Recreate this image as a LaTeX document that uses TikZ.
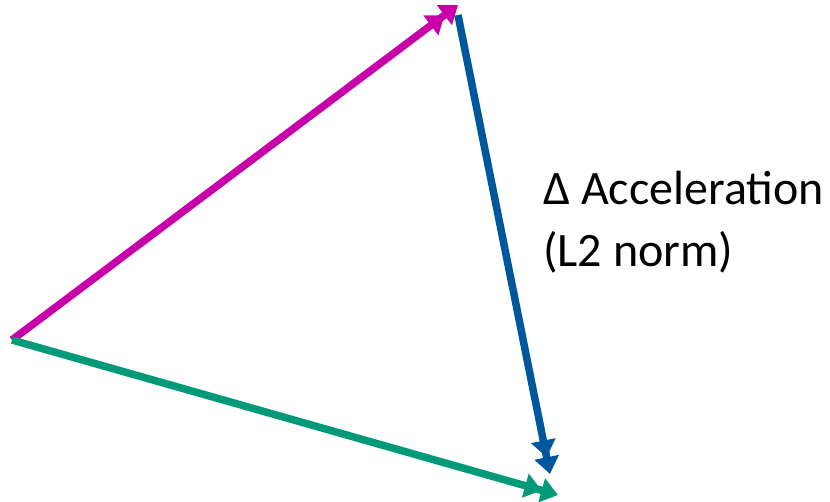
\documentclass[tikz,border=0pt]{standalone}
\usepackage{fontspec}
\setmainfont{Carlito}
\usetikzlibrary{arrows.meta}
\definecolor{accMagenta}{HTML}{C800AA}
\definecolor{accBlue}{HTML}{00579C}
\definecolor{accGreen}{HTML}{009A78}

\begin{document}
\begin{tikzpicture}[x=1pt, y=-1pt,
          vec/.style={line width=7.5pt, -{Triangle[length=17pt,width=24pt] Triangle[length=17pt,width=24pt]}},
          lbl/.style={font=\fontsize{48}{62}\selectfont, align=left, inner sep=0pt}]
        \useasboundingbox (0,0) rectangle (830,502);
        \coordinate (o) at (12,340);
        \coordinate (a) at (458,5);
        \coordinate (b) at (458,15);
        \coordinate (c) at (550,474);
        \coordinate (d) at (558,495);
        \draw[vec, accMagenta] (o) -- (a);
        \draw[vec, accBlue] (b) -- (c);
        \draw[vec, accGreen] (o) -- (d);
        \node[lbl, anchor=base west] (t) at (543,267) {Δ Acceleration\\(L2 norm)};
      \end{tikzpicture}
\end{document}
